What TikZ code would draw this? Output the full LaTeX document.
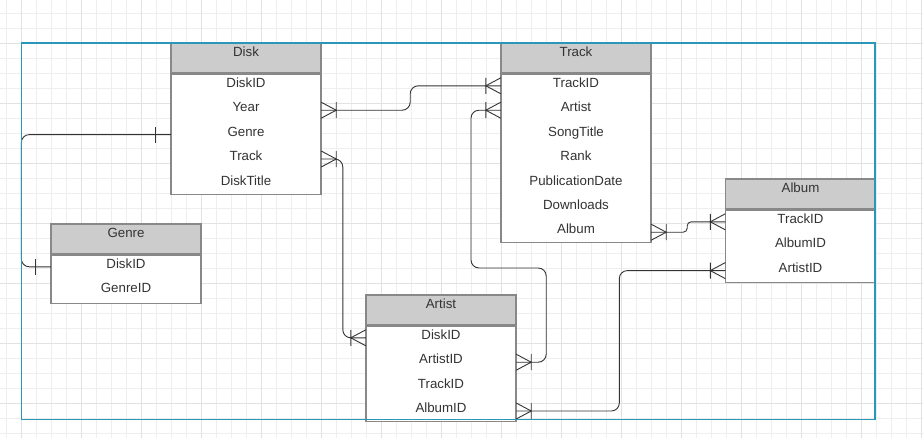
\documentclass[tikz,border=0pt]{standalone}
\usepackage{fontspec}
\setmainfont{Liberation Sans}
\usetikzlibrary{positioning}
\definecolor{framecol}{RGB}{42,150,186}
\definecolor{headcol}{RGB}{204,204,204}
\definecolor{edgecol}{RGB}{136,136,136}
\definecolor{wirecol}{RGB}{51,51,51}
\definecolor{textcol}{RGB}{51,51,51}
\definecolor{gridcol}{RGB}{238,238,238}
\definecolor{gridmajor}{RGB}{226,226,226}
\tikzset{
  tablehead/.style={draw=edgecol, fill=headcol, line width=1.2pt, minimum width=150pt, minimum height=30pt, inner sep=0pt, text height=9.5pt, text depth=12pt, text=textcol, font=\fontsize{13.3}{16}\selectfont},
  tablebody/.style={draw=edgecol, fill=white, line width=1.2pt, minimum width=150pt, inner sep=0pt},
  tablerow/.style={minimum width=150pt, minimum height=24pt, inner sep=0pt, text height=9.5pt, text depth=6pt, text=textcol, font=\fontsize{13.3}{16}\selectfont},
  wire/.style={draw=wirecol, line width=0.9pt, rounded corners=8pt},
  many/.pic={\draw[wirecol, line width=0.9pt] (0,-8) -- (15,0) -- (0,8) (15,-8) -- (15,8);},
  one/.pic={\draw[wirecol, line width=0.9pt] (15,-8) -- (15,8);}
}

\begin{document}
\begin{tikzpicture}[x=1pt, y=-1pt]
        \useasboundingbox (0,0) rectangle (923,437);

        % background grid
        \begin{scope}
            \clip (0,0) rectangle (923,437);
            \draw[gridcol, line width=0.6pt, step=15pt, shift={(6.7,13)}] (-15,-15) grid (930,440);
            \draw[gridmajor, line width=0.6pt, step=60pt, shift={(21.7,43)}] (-60,-60) grid (930,440);
        \end{scope}

        % Disk
        \node [tablehead] (diskHead) at (246,58) {Disk};
        \node [tablebody, minimum height=120pt, below=0pt of diskHead] (diskBody) {};
        \node [tablerow, below=0pt of diskHead] (diskID) {DiskID};
        \node [tablerow, below=0pt of diskID] (diskYear) {Year};
        \node [tablerow, below=0pt of diskYear] (diskGenre) {Genre};
        \node [tablerow, below=0pt of diskGenre] (diskTrack) {Track};
        \node [tablerow, below=0pt of diskTrack] (diskTitle) {DiskTitle};

        % Track
        \node [tablehead] (trackHead) at (576,58) {Track};
        \node [tablebody, minimum height=168pt, below=0pt of trackHead] (trackBody) {};
        \node [tablerow, below=0pt of trackHead] (trackID) {TrackID};
        \node [tablerow, below=0pt of trackID] (trackArtist) {Artist};
        \node [tablerow, below=0pt of trackArtist] (trackSong) {SongTitle};
        \node [tablerow, below=0pt of trackSong] (trackRank) {Rank};
        \node [tablerow, below=0pt of trackRank] (trackDate) {PublicationDate};
        \node [tablerow, below=0pt of trackDate] (trackDownloads) {Downloads};
        \node [tablerow, below=0pt of trackDownloads] (trackAlbum) {Album};

        % Album
        \node [tablehead] (albumHead) at (800.5,194) {Album};
        \node [tablebody, minimum height=72pt, below=0pt of albumHead] (albumBody) {};
        \node [tablerow, below=0pt of albumHead] (albumTrackID) {TrackID};
        \node [tablerow, below=0pt of albumTrackID] (albumID) {AlbumID};
        \node [tablerow, below=0pt of albumID] (albumArtistID) {ArtistID};

        % Genre
        \node [tablehead] (genreHead) at (126,239) {Genre};
        \node [tablebody, minimum height=48pt, below=0pt of genreHead] (genreBody) {};
        \node [tablerow, below=0pt of genreHead] (genreDiskID) {DiskID};
        \node [tablerow, below=0pt of genreDiskID] (genreID) {GenreID};

        % Artist
        \node [tablehead] (artistHead) at (441,310) {Artist};
        \node [tablebody, minimum height=95pt, below=0pt of artistHead] (artistBody) {};
        \node [tablerow, below=0pt of artistHead] (artistDiskID) {DiskID};
        \node [tablerow, below=0pt of artistDiskID] (artistID) {ArtistID};
        \node [tablerow, below=0pt of artistID] (artistTrackID) {TrackID};
        \node [tablerow, below=0pt of artistTrackID] (artistAlbumID) {AlbumID};

        % relations
        \draw [wire] (diskYear.east) -- ++(89,0) |- (trackID.west);
        \draw [wire] (diskGenre.west) -| ([xshift=-29.5pt]genreDiskID.west) -- (genreDiskID.west);
        \draw [wire] (diskTrack.east) -| ([xshift=-23pt]artistDiskID.west) -- (artistDiskID.west);
        \coordinate (artistBend) at (471,268);
        \draw [wire] (trackArtist.west) -| (artistBend) -| ([xshift=30pt]artistID.east) -- (artistID.east);
        \draw [wire, rounded corners=4pt] (trackAlbum.east) -- ++(36,0) |- (albumTrackID.west);
        \draw [wire] (artistAlbumID.east) -| ([xshift=-106pt]albumArtistID.west) -- (albumArtistID.west);

        \pic at (diskYear.east) {many};
        \pic [rotate=180] at (trackID.west) {many};
        \pic at (diskTrack.east) {many};
        \pic [rotate=180] at (artistDiskID.west) {many};
        \pic [rotate=180] at (trackArtist.west) {many};
        \pic at (artistID.east) {many};
        \pic at (trackAlbum.east) {many};
        \pic [rotate=180] at (albumTrackID.west) {many};
        \pic at (artistAlbumID.east) {many};
        \pic [rotate=180] at (albumArtistID.west) {many};
        \pic [rotate=180] at (diskGenre.west) {one};
        \pic [rotate=180] at (genreDiskID.west) {one};

        \draw [framecol, line width=1.2pt] (21.5,43) rectangle (875,419.5);
    \end{tikzpicture}
\end{document}
